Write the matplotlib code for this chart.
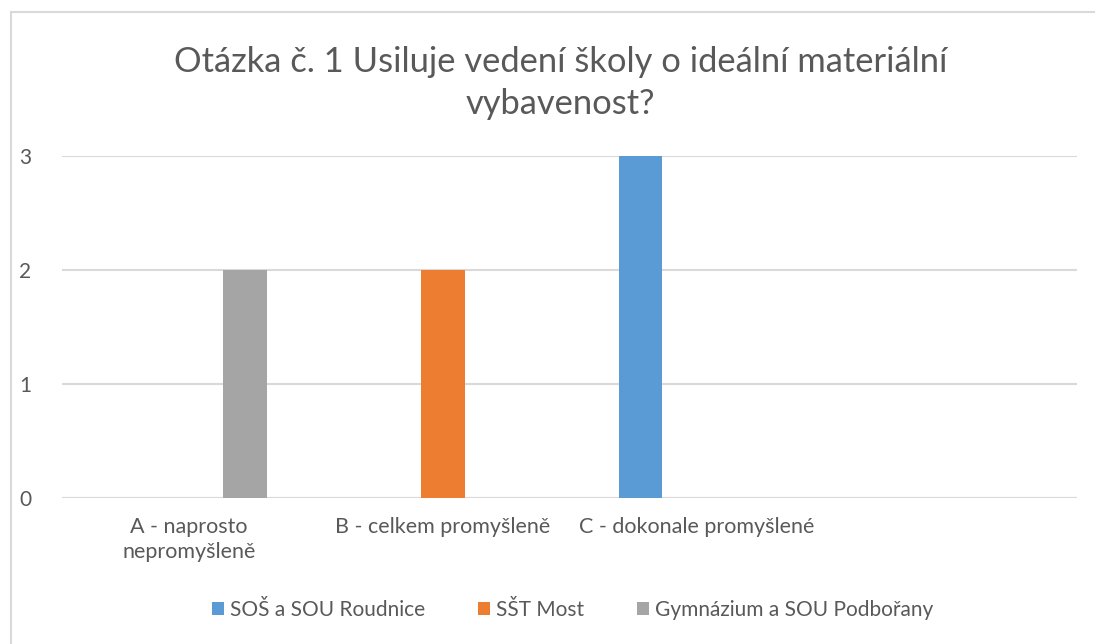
import numpy as np
import matplotlib.pyplot as plt
from matplotlib.patches import Rectangle

plt.rcParams['font.family'] = ['Lato', 'DejaVu Sans']

# data
categories = ["A - naprosto\nnepromyšleně", "B - celkem promyšleně",
              "C - dokonale promyšlené", ""]
series = ["SOŠ a SOU Roudnice", "SŠT Most", "Gymnázium a SOU Podbořany"]
roudnice = [0, 0, 3, 0]
most = [0, 2, 0, 0]
podborany = [2, 0, 0, 0]
colors = ["#5b9bd5", "#ed7d31", "#a5a5a5"]

text_col = "#595959"
grid_col = "#d9d9d9"

fig = plt.figure(figsize=(10.95, 6.44), dpi=100)
W, H = 1095, 644
ax = fig.add_axes([62 / W, 1 - 498 / H, (1077 - 62) / W, (498 - 156) / H])

# chart border like excel frame
fig.patches.append(Rectangle((11 / W, -0.1), 1.2, 1 - 12 / H + 0.1,
                             transform=fig.transFigure, fill=False,
                             edgecolor="#d9d9d9", linewidth=1.5))

x = np.arange(len(categories))
bw = 0.173
step = 0.22
for i, (vals, name) in enumerate(zip([roudnice, most, podborany], series)):
    ax.bar(x + (i - 1) * step, vals, width=bw, color=colors[i], label=name, zorder=3)

ax.set_xlim(-0.5, len(categories) - 0.5)
ax.set_ylim(0, 3)
ax.set_yticks([0, 1, 2, 3])
ax.yaxis.grid(True, color=grid_col, linewidth=1.5, zorder=0)
ax.set_xticks(x)
ax.set_xticklabels(categories, fontsize=15.5, color=text_col, linespacing=1.3)
ax.tick_params(axis='y', labelsize=15, labelcolor=text_col, length=0, pad=22)
ax.tick_params(axis='x', length=0, pad=14)
for s in ax.spines.values():
    s.set_visible(False)
ax.axhline(0, color=grid_col, linewidth=1.5, zorder=2)

fig.text(0.512, 1 - 62 / H, "Otázka č. 1 Usiluje vedení školy o ideální materiální",
         ha='center', va='center', fontsize=24.8, color=text_col)
fig.text(0.512, 1 - 104 / H, "vybavenost?",
         ha='center', va='center', fontsize=24.8, color=text_col)

fig.legend(loc='center', bbox_to_anchor=(0.523, 1 - 610 / H), ncol=3, frameon=False,
           fontsize=15, labelcolor=text_col, handlelength=0.6, handleheight=0.6,
           handletextpad=0.3, columnspacing=2.5)

fig.savefig("out.png", dpi=100)
